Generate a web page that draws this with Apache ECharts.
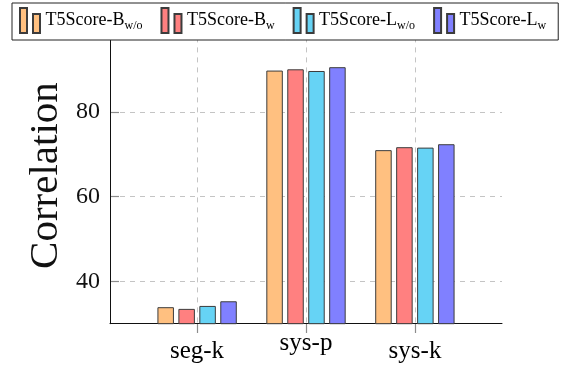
<!DOCTYPE html>
<html>
<head>
<meta charset="utf-8">
<script src="https://cdn.jsdelivr.net/npm/echarts@6/dist/echarts.min.js"></script>
<style>html,body{margin:0;padding:0;background:#fff}#c{width:562px;height:367px}</style>
</head>
<body>
<div id="c"></div>
<script>
const categories = ['seg-k', 'sys-p', 'sys-k'];
const seriesNames = ['T5Score-B_w/o', 'T5Score-B_w', 'T5Score-L_w/o', 'T5Score-L_w'];
const bWo = [33.9, 89.8, 71.0];
const bW = [33.5, 90.1, 71.7];
const lWo = [34.2, 89.7, 71.6];
const lW = [35.3, 90.6, 72.4];
const yTicks = [40, 60, 80];
const yLabel = 'Correlation';

const seriesValues = [bWo, bW, lWo, lW];
const colors = ['#FFC080', '#FF8080', '#66D3F5', '#8080FF'];
const FONT = 'Liberation Serif';
const TOP = 27.4, BOTTOM = 367 - 323.7;
const gridLine = { show: true, lineStyle: { color: '#c4c4c4', type: [5, 5], width: 1 } };
const tickLine = { show: true, lineStyle: { color: '#8c8c8c', type: 'solid', width: 1.2 } };

const chart = echarts.init(document.getElementById('c'), null, { renderer: 'canvas' });
chart.setOption({
  animation: false,
  backgroundColor: '#fff',
  textStyle: { fontFamily: FONT },
  legend: {
    left: 12, top: 3,
    padding: [4, 12, 6, 7],
    itemGap: 18,
    itemWidth: 21, itemHeight: 25,
    borderColor: '#222', borderWidth: 1,
    backgroundColor: '#fff',
    z: 10,
    icon: 'path://M0,0h7v25h-7z M13,6h7v19h-7z',
    data: seriesNames,
    formatter: function (n) {
      const p = n.split('_');
      return '{m|' + p[0] + '}{s|' + p[1] + '}';
    },
    textStyle: {
      fontFamily: FONT, color: '#000',
      rich: {
        m: { fontFamily: FONT, fontSize: 18, lineHeight: 22, color: '#000' },
        s: { fontFamily: FONT, fontSize: 12, lineHeight: 11, verticalAlign: 'bottom', color: '#000' }
      }
    }
  },
  grid: [
    { left: 110, right: 60, top: TOP, bottom: BOTTOM, outerBoundsMode: 'none', containLabel: false },
    { left: 197, right: 147, top: TOP, bottom: BOTTOM, outerBoundsMode: 'none', containLabel: false },
    { left: 110, right: 60, top: TOP, bottom: 367 - 281.3, outerBoundsMode: 'none', containLabel: false },
    { left: 197, right: 147, top: TOP, bottom: 367 - 333, outerBoundsMode: 'none', containLabel: false },
    { left: 110, right: 562 - 119, top: TOP, bottom: 367 - 281.3, outerBoundsMode: 'none', containLabel: false }
  ],
  xAxis: [
    { gridIndex: 0, type: 'value', min: -0.8, max: 2.8,
      axisLine: { show: true, onZero: false, lineStyle: { color: '#111', width: 1 } },
      axisTick: { show: false }, axisLabel: { show: false }, splitLine: { show: false } },
    { gridIndex: 1, type: 'category', data: categories, boundaryGap: false,
      axisLine: { show: false, onZero: false },
      axisTick: { show: false },
      axisLabel: {
        interval: 0, hideOverlap: false,
        margin: 13, color: '#000', fontFamily: FONT, fontSize: 25,
        formatter: function (v) { return v === 'sys-p' ? '{p|' + v + '}' : '{n|' + v + '}'; },
        rich: {
          n: { fontFamily: FONT, fontSize: 25, lineHeight: 30, color: '#000' },
          p: { fontFamily: FONT, fontSize: 25, lineHeight: 14, color: '#000' }
        }
      },
      splitLine: { show: true, interval: 0, lineStyle: { color: '#c4c4c4', type: [5, 5], width: 1 } } },
    { gridIndex: 2, type: 'value', min: 0, max: 1, show: false },
    { gridIndex: 3, type: 'category', data: categories, boundaryGap: false,
      axisLine: { show: true, onZero: false, lineStyle: { color: 'rgba(0,0,0,0)' } },
      axisTick: { show: true, interval: 0, inside: true, length: 9, lineStyle: { color: '#8c8c8c', width: 1.2 } },
      axisLabel: { show: false },
      splitLine: { show: false } },
    { gridIndex: 4, type: 'value', min: 0, max: 1, show: false }
  ],
  yAxis: [
    { gridIndex: 0, type: 'value', min: 30, max: 100,
      axisLine: { show: true, onZero: false, lineStyle: { color: '#111', width: 1 } },
      axisTick: { show: false }, axisLabel: { show: false }, splitLine: { show: false },
      name: yLabel, nameLocation: 'middle', nameRotate: 90, nameGap: 43,
      nameTextStyle: { fontFamily: FONT, fontSize: 41, color: '#111' } },
    { gridIndex: 1, type: 'value', min: 30, max: 100, show: false },
    { gridIndex: 2, type: 'value', min: 40, max: 100, interval: 20,
      axisLine: { show: false }, axisTick: { show: false },
      axisLabel: { margin: 10, color: '#111', fontFamily: FONT, fontSize: 24,
        formatter: function (v) { return yTicks.indexOf(v) >= 0 ? String(v) : ''; } },
      splitLine: gridLine },
    { gridIndex: 3, type: 'value', min: 0, max: 1, show: false },
    { gridIndex: 4, type: 'value', min: 40, max: 100, interval: 20,
      axisLine: { show: false }, axisTick: { show: false }, axisLabel: { show: false },
      splitLine: tickLine }
  ],
  series: seriesNames.map(function (n, i) {
    return {
      name: n, type: 'bar', xAxisIndex: 0, yAxisIndex: 0,
      data: seriesValues[i].map(function (v, k) { return [k, v]; }),
      barWidth: 16.5, barGap: '27%',
      itemStyle: { color: colors[i], borderColor: '#3c3c3c', borderWidth: 1 }
    };
  }).concat([{
    name: 'ticks', type: 'bar', xAxisIndex: 3, yAxisIndex: 3, silent: true,
    data: categories.map(function () { return null; }), legendHoverLink: false
  }])
});
</script>
</body>
</html>
